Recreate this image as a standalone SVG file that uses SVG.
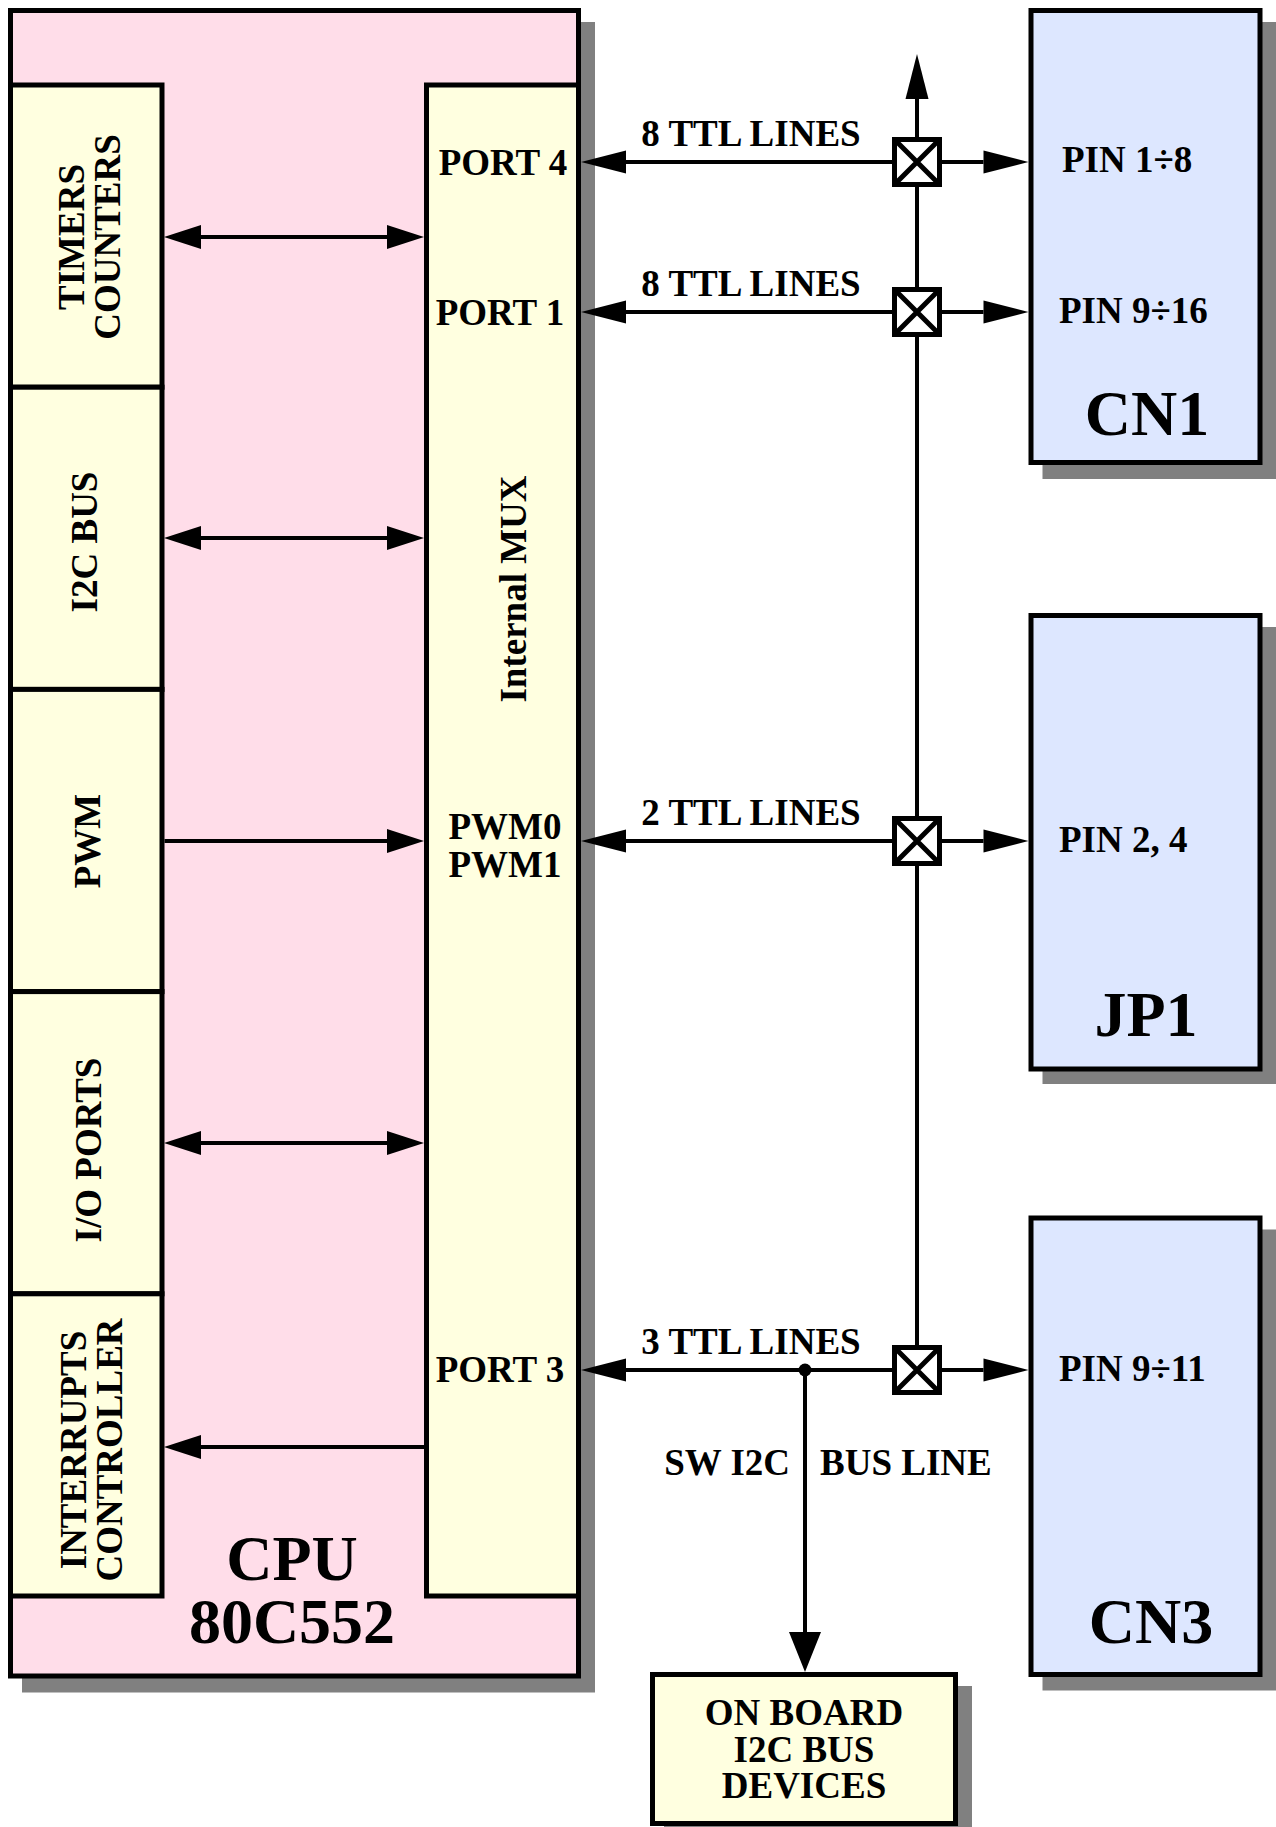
<svg xmlns="http://www.w3.org/2000/svg" xmlns:xlink="http://www.w3.org/1999/xlink" width="1276" height="1827" viewBox="0 0 1276 1827">
<style>
  .box { stroke: #000; stroke-width: 5; }
  .cpu { fill: #FFDDE9; }
  .yel { fill: #FFFFE0; }
  .blu { fill: #DDE7FF; }
  .shd { fill: #808080; }
  .ln { stroke: #000; stroke-width: 4; fill: none; }
  text { font-family: "Liberation Serif", "Times New Roman", serif; font-weight: bold; fill: #000; }
  .t37 { font-size: 37px; }
  .mid { text-anchor: middle; }
  .end { text-anchor: end; }
  .big { font-size: 64px; text-anchor: middle; }
</style>
<defs>
  <marker id="aS" markerUnits="userSpaceOnUse" markerWidth="40" markerHeight="30" refX="0" refY="0" orient="auto-start-reverse" overflow="visible">
    <path d="M0,-12 L37,0 L0,12 Z" fill="#000"/>
  </marker>
  <marker id="aL" markerUnits="userSpaceOnUse" markerWidth="50" markerHeight="30" refX="0" refY="0" orient="auto-start-reverse" overflow="visible">
    <path d="M0,-11.5 L45,0 L0,11.5 Z" fill="#000"/>
  </marker>
  <marker id="aB" markerUnits="userSpaceOnUse" markerWidth="50" markerHeight="40" refX="0" refY="0" orient="auto-start-reverse" overflow="visible">
    <path d="M0,-16 L40,0 L0,16 Z" fill="#000"/>
  </marker>
  <g id="xbox">
    <rect x="-22.5" y="-22.5" width="45" height="45" fill="#fff" stroke="#000" stroke-width="5"/>
    <path d="M-22.5,-22.5 L22.5,22.5 M22.5,-22.5 L-22.5,22.5" stroke="#000" stroke-width="5" fill="none"/>
  </g>
</defs>

<rect width="1276" height="1827" fill="#fff"/>

<!-- CPU -->
<g id="cpu">
  <rect class="shd" x="22" y="22" width="573" height="1670.5"/>
  <rect class="box cpu" x="10.5" y="10.5" width="568" height="1665.5"/>
  <text class="big" x="292" y="1580">CPU</text>
  <text class="big" x="292" y="1643">80C552</text>
</g>

<g id="timers">
  <rect class="box yel" x="10.5" y="85" width="151.5" height="302.2"/>
  <text class="t37 mid" transform="translate(84,237) rotate(-90)">TIMERS</text>
  <text class="t37 mid" transform="translate(120,237) rotate(-90)">COUNTERS</text>
</g>
<g id="i2cbus">
  <rect class="box yel" x="10.5" y="387.2" width="151.5" height="302.2"/>
  <text class="t37 mid" transform="translate(97,542) rotate(-90)">I2C BUS</text>
</g>
<g id="pwm">
  <rect class="box yel" x="10.5" y="689.4" width="151.5" height="302.2"/>
  <text class="t37 mid" transform="translate(100,841) rotate(-90)">PWM</text>
</g>
<g id="ioports">
  <rect class="box yel" x="10.5" y="991.6" width="151.5" height="302.2"/>
  <text class="t37 mid" transform="translate(101,1150) rotate(-90)">I/O PORTS</text>
</g>
<g id="interrupts">
  <rect class="box yel" x="10.5" y="1293.8" width="151.5" height="302.2"/>
  <text class="t37 mid" transform="translate(86,1450) rotate(-90)">INTERRUPTS</text>
  <text class="t37 mid" transform="translate(122,1450) rotate(-90)">CONTROLLER</text>
</g>

<g id="mux">
  <rect class="box yel" x="426.5" y="85" width="152" height="1511"/>
  <text class="t37 mid" x="503" y="175">PORT 4</text>
  <text class="t37 mid" x="500" y="325">PORT 1</text>
  <text class="t37 mid" transform="translate(526,589) rotate(-90)">Internal MUX</text>
  <text class="t37 mid" x="505" y="839">PWM0</text>
  <text class="t37 mid" x="505" y="877">PWM1</text>
  <text class="t37 mid" x="500" y="1382">PORT 3</text>
</g>

<!-- Connectors -->
<g id="connectors">
  <path class="ln" d="M201,237 H387" marker-start="url(#aS)" marker-end="url(#aS)"/>
  <path class="ln" d="M201,538 H387" marker-start="url(#aS)" marker-end="url(#aS)"/>
  <path class="ln" d="M164.5,841 H387" marker-end="url(#aS)"/>
  <path class="ln" d="M201,1143 H387" marker-start="url(#aS)" marker-end="url(#aS)"/>
  <path class="ln" d="M201,1447 H426.5" marker-start="url(#aS)"/>

  <path class="ln" d="M917,1345 V99" marker-end="url(#aL)"/>

  <path class="ln" d="M626,162 H892" marker-start="url(#aL)"/>
  <path class="ln" d="M942,162 H983.5" marker-end="url(#aL)"/>
  <path class="ln" d="M626,312 H892" marker-start="url(#aL)"/>
  <path class="ln" d="M942,312 H983.5" marker-end="url(#aL)"/>
  <path class="ln" d="M626,841 H892" marker-start="url(#aL)"/>
  <path class="ln" d="M942,841 H983.5" marker-end="url(#aL)"/>
  <path class="ln" d="M626,1370 H892" marker-start="url(#aL)"/>
  <path class="ln" d="M942,1370 H983.5" marker-end="url(#aL)"/>

  <path class="ln" d="M805,1370 V1632" marker-end="url(#aB)"/>
  <circle cx="805" cy="1370" r="6.5" fill="#000"/>

  <use xlink:href="#xbox" href="#xbox" transform="translate(917,162)"/>
  <use xlink:href="#xbox" href="#xbox" transform="translate(917,312)"/>
  <use xlink:href="#xbox" href="#xbox" transform="translate(917,841)"/>
  <use xlink:href="#xbox" href="#xbox" transform="translate(917,1370)"/>

  <text class="t37 mid" x="751" y="146">8 TTL LINES</text>
  <text class="t37 mid" x="751" y="296">8 TTL LINES</text>
  <text class="t37 mid" x="751" y="825">2 TTL LINES</text>
  <text class="t37 mid" x="751" y="1354">3 TTL LINES</text>
  <text class="t37 end" x="790" y="1475">SW I2C</text>
  <text class="t37" x="820" y="1475">BUS LINE</text>
</g>

<g id="cn1">
  <rect class="shd" x="1042.5" y="22" width="234" height="457"/>
  <rect class="box blu" x="1031" y="10.5" width="229" height="452"/>
  <text class="t37" x="1062" y="172">PIN 1÷8</text>
  <text class="t37" x="1059" y="323">PIN 9÷16</text>
  <text class="big" x="1147" y="435">CN1</text>
</g>

<g id="jp1">
  <rect class="shd" x="1042.5" y="627" width="234" height="457"/>
  <rect class="box blu" x="1031" y="615.5" width="229" height="453.5"/>
  <text class="t37" x="1059" y="852">PIN 2, 4</text>
  <text class="big" x="1146" y="1036">JP1</text>
</g>

<g id="cn3">
  <rect class="shd" x="1042.5" y="1229.5" width="234" height="461"/>
  <rect class="box blu" x="1031" y="1218" width="229" height="456.5"/>
  <text class="t37" x="1059" y="1381">PIN 9÷11</text>
  <text class="big" x="1151" y="1643">CN3</text>
</g>

<g id="onboard">
  <rect class="shd" x="664" y="1686" width="308" height="160"/>
  <rect class="box yel" x="652.5" y="1674.5" width="303" height="149"/>
  <text class="t37 mid" x="804" y="1725">ON BOARD</text>
  <text class="t37 mid" x="804" y="1762">I2C BUS</text>
  <text class="t37 mid" x="804" y="1798">DEVICES</text>
</g>
</svg>
